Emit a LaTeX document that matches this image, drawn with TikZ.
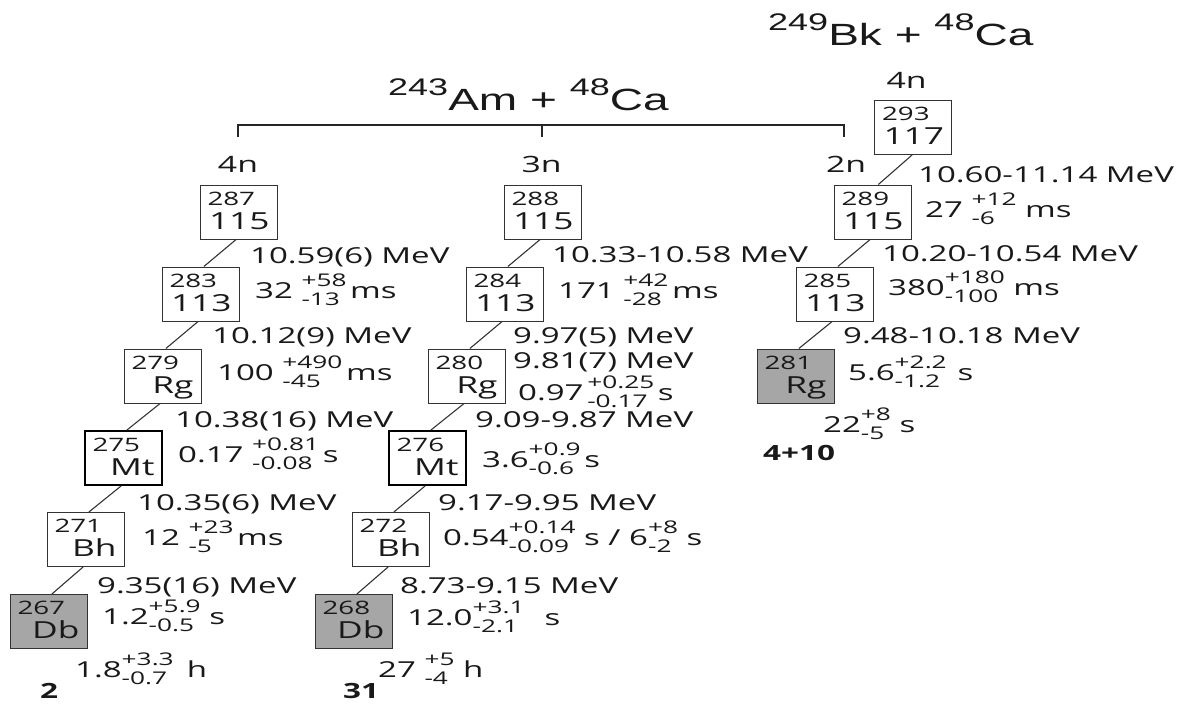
\documentclass[tikz,border=0pt]{standalone}
\usepackage{fontspec}
\setmainfont{Open Sans}[FakeStretch=1.5]
\newfontfamily\titlefont{Liberation Sans}[FakeStretch=1.5]
\newcommand\ud[2]{\raisebox{-7pt}{\fontsize{17.5}{19}\selectfont\begin{tabular}[b]{@{}l@{}}#1\\#2\end{tabular}}}
\newcommand\nucl[2]{\parbox[c][40pt][t]{62pt}{\fontsize{18.5}{20}\selectfont #1\par\raggedleft\fontsize{23.5}{24}\selectfont #2\par}}
\newcommand\iso[1]{\raisebox{15pt}{\fontsize{24}{24}\selectfont #1}}
\begin{document}
\begin{tikzpicture}[x=1pt,y=-1pt,
  nuc/.style={draw=black!80, line width=1pt, minimum width=77pt, minimum height=54pt, inner sep=0pt, text=black!90},
  nucmt/.style={nuc, draw=black, line width=2pt},
  nucend/.style={nuc, fill=black!35},
  txt/.style={anchor=base west, inner sep=0pt, text=black!90, font=\fontsize{22}{24}\selectfont},
  cnt/.style={txt, font=\bfseries\fontsize{21}{24}\selectfont},
  chan/.style={anchor=base, inner sep=0pt, text=black!90, font=\fontsize{22.5}{24}\selectfont},
  react/.style={anchor=base west, inner sep=0pt, text=black!90, font=\titlefont\fontsize{30.7}{32}\selectfont},
  decay/.style={draw=black!80, line width=1.1pt}]
\useasboundingbox (0,0) rectangle (1199,704);

%reactions
\node[react] (amca) at (388,110) {\iso{243}Am + \iso{48}Ca};
\node[react] (bkca) at (768,45) {\iso{249}Bk + \iso{48}Ca};
\coordinate (brL) at (238,137);
\coordinate (brM) at (542,137);
\coordinate (brR) at (844,137);
\draw[line width=2pt, black!85] (brL) -- ++(0,-12) -| (brR);
\draw[line width=2pt, black!85] (brM) -- ++(0,-12);
\node[chan] (c4n) at (238,172) {4n};
\node[chan] (c3n) at (541.5,172) {3n};
\node[chan] (c2n) at (846,172) {2n};
\node[chan] (c4nb) at (906.5,88) {4n};

%4n chain
\node[nuc] (n287) at (238.5,212) {\nucl{287}{115}};
\node[nuc] (n283) at (200.5,294) {\nucl{283}{113}};
\node[nuc] (n279) at (162.5,376) {\nucl{279}{Rg}};
\node[nucmt] (n275) at (123.5,458) {\nucl{275}{Mt}};
\node[nuc] (n271) at (85.5,539.5) {\nucl{271}{Bh}};
\node[nucend] (n267) at (48.5,621.5) {\nucl{267}{Db}};
\draw[decay] (n287.265) -- (n283.83);
\draw[decay] (n283.265) -- (n279.83);
\draw[decay] (n279.265) -- (n275.83);
\draw[decay] (n275.265) -- (n271.83);
\draw[decay] (n271.265) -- (n267.83);
\node[txt] (e287) at (250,263) {10.59(6) MeV};
\node[txt] (t283) at (255,298) {32 \ud{+58}{-13}\,ms};
\node[txt] (e283) at (212,343) {10.12(9) MeV};
\node[txt] (t279) at (217,380) {100 \ud{+490}{-45}\,ms};
\node[txt] (e279) at (175,427) {10.38(16) MeV};
\node[txt] (t275) at (178,462) {0.17 \ud{+0.81}{-0.08}\,s};
\node[txt] (e275) at (137,510) {10.35(6) MeV};
\node[txt] (t271) at (142,545) {12 \ud{+23}{-5}\,ms};
\node[txt] (e271) at (97,593) {9.35(16) MeV};
\node[txt] (t267) at (102,624) {1.2\ud{+5.9}{-0.5} s};
\node[txt] (h267) at (75,677) {1.8\ud{+3.3}{-0.7}\hspace{0.6em}h};
\node[cnt] (k267) at (40,698) {2};

%3n chain
\node[nuc] (n288) at (542.5,212) {\nucl{288}{115}};
\node[nuc] (n284) at (504.5,294) {\nucl{284}{113}};
\node[nuc] (n280) at (466.5,376) {\nucl{280}{Rg}};
\node[nucmt] (n276) at (427.5,458) {\nucl{276}{Mt}};
\node[nuc] (n272) at (390.5,539.5) {\nucl{272}{Bh}};
\node[nucend] (n268) at (353.5,621.5) {\nucl{268}{Db}};
\draw[decay] (n288.265) -- (n284.83);
\draw[decay] (n284.265) -- (n280.83);
\draw[decay] (n280.265) -- (n276.83);
\draw[decay] (n276.265) -- (n272.83);
\draw[decay] (n272.265) -- (n268.83);
\node[txt] (e288) at (552,262) {10.33-10.58 MeV};
\node[txt] (t284) at (558,298) {171 \ud{+42}{-28}\,ms};
\node[txt] (e284a) at (513,343) {9.97(5) MeV};
\node[txt] (e284b) at (513,368) {9.81(7) MeV};
\node[txt] (t280) at (518,400) {0.97\,\ud{+0.25}{-0.17}\,s};
\node[txt] (e280) at (475,427) {9.09-9.87 MeV};
\node[txt] (t276) at (482,467) {3.6\ud{+0.9}{-0.6}\,s};
\node[txt] (e276) at (438,510) {9.17-9.95 MeV};
\node[txt] (t272) at (443,545) {0.54\ud{+0.14}{-0.09} s / 6\ud{+8}{-2} s};
\node[txt] (e272) at (400,593) {8.73-9.15 MeV};
\node[txt] (t268) at (407,625) {12.0\ud{+3.1}{-2.1}\hspace{20pt}s};
\node[txt] (h268) at (378,677) {27 \ud{+5}{-4} h};
\node[cnt] (k268) at (343,698) {31};

%2n chain (Bk)
\node[nuc] (n293) at (913,127.5) {\nucl{293}{117}};
\node[nuc] (n289) at (872.5,212) {\nucl{289}{115}};
\node[nuc] (n285) at (834.5,294) {\nucl{285}{113}};
\node[nucend] (n281) at (795.5,376) {\nucl{281}{Rg}};
\draw[decay] (n293.268) -- (n289.78);
\draw[decay] (n289.265) -- (n285.83);
\draw[decay] (n285.265) -- (n281.83);
\node[txt] (e293) at (918,182) {10.60-11.14 MeV};
\node[txt] (t289) at (925,217) {27 \ud{+12}{-6} ms};
\node[txt] (e289) at (882,261) {10.20-10.54 MeV};
\node[txt] (t285) at (888,295) {380\ud{+180}{-100} ms};
\node[txt] (e285) at (843,343) {9.48-10.18 MeV};
\node[txt] (t281) at (848,380) {5.6\ud{+2.2}{-1.2}\hspace{0.5em}s};
\node[txt] (h281) at (823,432) {22\ud{+8}{-5} s};
\node[cnt] (k281) at (763,460) {4+10};
\end{tikzpicture}
\end{document}
